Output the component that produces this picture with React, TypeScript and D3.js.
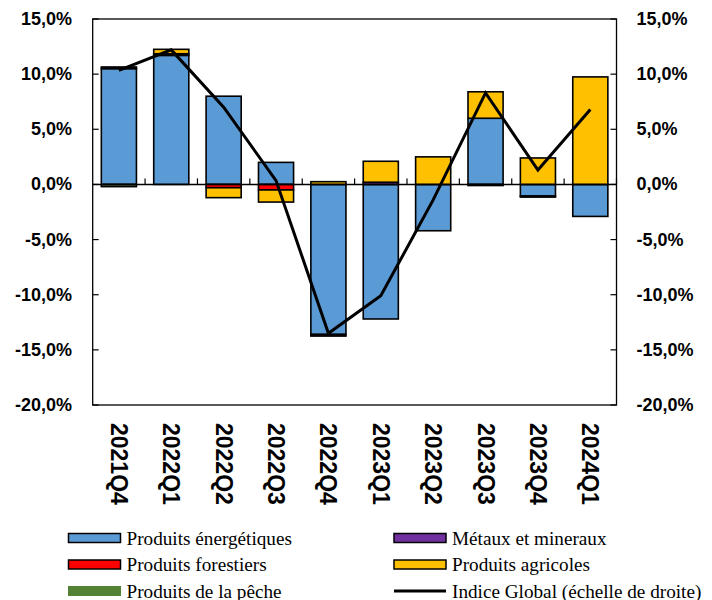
import React from "react";
import * as d3 from "d3";

const categories = ["2021Q4", "2022Q1", "2022Q2", "2022Q3", "2022Q4", "2023Q1", "2023Q2", "2023Q3", "2023Q4", "2024Q1"];
const energy = [10.5, 11.7, 8.0, 2.0, -13.6, -12.2, -4.2, 6.0, -1.05, -2.9];
const metals = [0.15, 0.15, 0, 0, -0.15, 0.2, 0, -0.1, -0.1, 0];
const forestry = [0, 0, -0.3, -0.5, 0, 0, 0, 0, 0, 0];
const agri = [0, 0.4, -0.9, -1.1, 0.25, 1.9, 2.5, 2.4, 2.4, 9.75];
const fishing = [-0.2, 0, 0, 0, 0, 0, 0, 0, 0, 0];
const globalIndex = [10.35, 12.2, 7.0, 0.35, -13.5, -10.1, -1.4, 8.3, 1.3, 6.8];
const yTicks = [15, 10, 5, 0, -5, -10, -15, -20];

const seriesNames = ["Produits énergétiques", "Métaux et mineraux", "Produits forestiers", "Produits agricoles", "Produits de la pêche"];
const seriesKeys = ["energy", "metals", "forestry", "agri", "fishing"];
const seriesColors = ["#5B9BD5", "#7030A0", "#FF0000", "#FFC000", "#548235"];
const lineName = "Indice Global (échelle de droite)";

const W = 712;
const H = 600;
const L = 92.7;
const R = 616.5;
const T = 19;
const B = 405;

export default function App() {
  const rows = categories.map((c, i) => ({
    cat: c,
    energy: energy[i],
    metals: metals[i],
    forestry: forestry[i],
    agri: agri[i],
    fishing: fishing[i],
  }));
  const stack = d3.stack<any>().keys(seriesKeys).offset(d3.stackOffsetDiverging);
  const stacked = stack(rows);

  const x = d3.scaleBand<string>().domain(categories).range([L, R]).paddingInner(0.33).paddingOuter(0.165);
  const y = d3.scaleLinear().domain([-20, 15]).range([B, T]);
  const yR = d3.scaleLinear().domain([-20, 15]).range([B, T]);
  const step = x.step();

  const fmt = (v: number) => (v < 0 ? "-" : "") + Math.abs(v).toFixed(1).replace(".", ",") + "%";

  const line = d3
    .line<number>()
    .x((_, i) => (x(categories[i]) as number) + x.bandwidth() / 2)
    .y((d) => yR(d));

  const tickFont = "'Liberation Sans', Arial, sans-serif";
  const legendFont = "'Liberation Serif', 'Times New Roman', serif";

  const legendItems = [
    { label: seriesNames[0], color: seriesColors[0], type: "rect", col: 0, row: 0 },
    { label: seriesNames[1], color: seriesColors[1], type: "rect", col: 1, row: 0 },
    { label: seriesNames[2], color: seriesColors[2], type: "rect", col: 0, row: 1 },
    { label: seriesNames[3], color: seriesColors[3], type: "rect", col: 1, row: 1 },
    { label: seriesNames[4], color: seriesColors[4], type: "green", col: 0, row: 2 },
    { label: lineName, color: "#000", type: "line", col: 1, row: 2 },
  ];
  const colX = [68.5, 394];
  const rowY = [538, 564.5, 591];

  return (
    <svg width={W} height={H} style={{ position: "absolute", left: 0, top: 0, background: "#fff" }}>
      <rect x={0} y={0} width={W} height={H} fill="#fff" />
      {/* frame */}
      <rect x={L} y={T} width={R - L} height={B - T} fill="none" stroke="#000" strokeWidth={1.3} />
      {/* y ticks */}
      {yTicks.map((t) => (
        <g key={t}>
          <line x1={L} x2={L + 6} y1={y(t)} y2={y(t)} stroke="#000" strokeWidth={1.2} />
          <line x1={R - 6} x2={R} y1={yR(t)} y2={yR(t)} stroke="#000" strokeWidth={1.2} />
          <text x={72} y={y(t)} textAnchor="end" dominantBaseline="central" fontFamily={tickFont} fontWeight="bold" fontSize={18} fill="#000">
            {fmt(t)}
          </text>
          <text x={636.5} y={yR(t)} textAnchor="start" dominantBaseline="central" fontFamily={tickFont} fontWeight="bold" fontSize={18} fill="#000">
            {fmt(t)}
          </text>
        </g>
      ))}
      {/* bars */}
      {stacked.map((s, si) => (
        <g key={s.key}>
          {s.map((d, i) =>
            d[1] - d[0] === 0 ? null : (
              <rect
                key={i}
                x={x(categories[i])}
                width={x.bandwidth()}
                y={y(Math.max(d[0], d[1]))}
                height={Math.abs(y(d[0]) - y(d[1]))}
                fill={seriesColors[si]}
                stroke="#000"
                strokeWidth={1.6}
              />
            )
          )}
        </g>
      ))}
      {/* zero line */}
      <line x1={L} x2={R} y1={y(0)} y2={y(0)} stroke="#000" strokeWidth={1.5} />
      {/* category ticks */}
      {categories.map((c, i) => (
        <line key={c} x1={L + step * (i + 1)} x2={L + step * (i + 1)} y1={y(0)} y2={y(0) - 6} stroke="#000" strokeWidth={1.2} />
      ))}
      {/* global line */}
      <path d={line(globalIndex) as string} fill="none" stroke="#000" strokeWidth={3} strokeLinejoin="miter" />
      {/* x labels */}
      {categories.map((c) => {
        const cx = (x(c) as number) + x.bandwidth() / 2;
        return (
          <text
            key={c}
            transform={`translate(${cx},423) rotate(90)`}
            textAnchor="start"
            dominantBaseline="central"
            fontFamily={tickFont}
            fontWeight="bold"
            fontSize={23}
            fill="#000"
          >
            {c}
          </text>
        );
      })}
      {/* legend */}
      {legendItems.map((it) => {
        const lx = colX[it.col];
        const ly = rowY[it.row];
        return (
          <g key={it.label}>
            {it.type === "rect" && (
              <rect x={lx} y={ly - 4.5} width={52} height={9} fill={it.color} stroke="#000" strokeWidth={1.5} />
            )}
            {it.type === "green" && <rect x={lx - 0.5} y={ly - 5} width={53} height={10} fill={it.color} />}
            {it.type === "line" && <line x1={lx} x2={lx + 52} y1={ly} y2={ly} stroke="#000" strokeWidth={3} />}
            <text x={lx + 58} y={ly} dominantBaseline="central" fontFamily={legendFont} fontSize={19.2} fill="#000">
              {it.label}
            </text>
          </g>
        );
      })}
    </svg>
  );
}
